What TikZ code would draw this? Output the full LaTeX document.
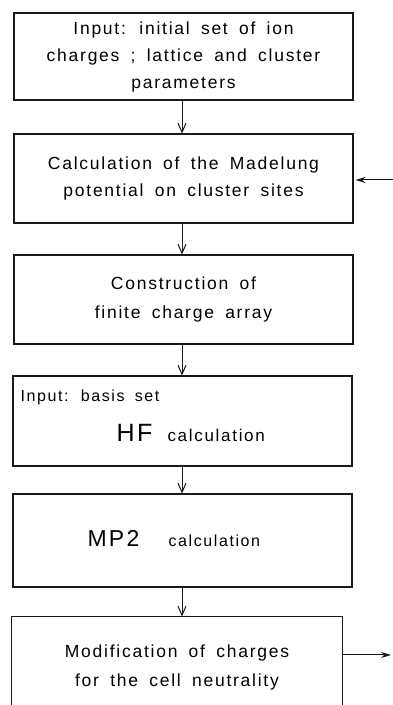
\documentclass[tikz,border=0pt]{standalone}
\usepackage{fontspec}
\setmainfont{Liberation Sans}[LetterSpace=10, WordSpace=1.7]
\usetikzlibrary{arrows.meta}
\begin{document}
\begin{tikzpicture}[x=1pt,y=1pt,
  line width=1.1pt,
  boxstyle/.style={draw=black!90, line width=1.1pt, rectangle, inner sep=0pt, minimum width=339pt, align=center,
     font=\fontsize{17.5}{27}\selectfont},
  arr/.style={draw=black!90, line width=1pt, -{Straight Barb[length=9pt,width=8pt,line width=1pt]}},
  harr/.style={draw=black!90, line width=1pt, -{Stealth[length=10pt,width=6pt]}},
  plain/.style={inner sep=0pt, font=\fontsize{17.5}{27}\selectfont}]
\useasboundingbox (0,0) rectangle (393,705);

\node[boxstyle, minimum height=87pt] (b1) at (183.5,648.5)
  {Input: initial set of ion\\charges ; lattice and cluster\\parameters};
\node[boxstyle, minimum height=89pt] (b2) at (183.5,526.5)
  {Calculation of the Madelung\\potential on cluster sites};
\node[boxstyle, minimum height=89pt] (b3) at (183.5,405.5)
  {Construction of\\[2pt]finite charge array};
\node[boxstyle, minimum height=90pt] (b4) at (182.5,284) {};
\node[boxstyle, minimum height=93pt] (b5) at (182.5,164.5) {};
\node[inner sep=0pt, minimum width=330pt, minimum height=103pt] (b6) at (177,36.5) {};

% box 6 (cut off at the bottom)
\draw[draw=black!90, line width=1.1pt] (b6.south west) -- (b6.north west) -- (b6.north east) -- (b6.south east);

% texts of box 4, 5, 6
\node[plain, anchor=base west, font=\fontsize{16}{20}\selectfont] (t4a) at (20,303) {Input: basis set};
\node[plain, anchor=base west, font=\fontsize{25}{30}\selectfont] (t4b) at (116,263) {HF};
\node[plain, anchor=base west, font=\fontsize{17}{20}\selectfont] (t4c) at (167,263) {calculation};
\node[plain, anchor=base west, font=\fontsize{23}{27}\selectfont] (t5a) at (87,158) {MP2};
\node[plain, anchor=base west, font=\fontsize{16}{20}\selectfont] (t5b) at (168,158) {calculation};
\node[plain, anchor=base] (t6a) at (177,47) {Modification of charges};
\node[plain, anchor=base] (t6b) at (177,18) {for the cell neutrality};

% vertical connectors along x = 182
\coordinate (vx) at (182,0);
\draw[arr] (b1.south -| vx) -- (b2.north -| vx);
\draw[arr] (b2.south -| vx) -- (b3.north -| vx);
\draw[arr] (b3.south -| vx) -- (b4.north -| vx);
\draw[arr] (b4.south -| vx) -- (b5.north -| vx);
\draw[arr] (b5.south -| vx) -- (b6.north -| vx);

% feedback arrows
\coordinate (fin) at (393,525);
\coordinate (fout) at (391,50);
\draw[harr] (fin) -- ([xshift=2pt]b2.east |- fin);
\draw[harr] (b6.east |- fout) -- (fout);
\end{tikzpicture}
\end{document}
